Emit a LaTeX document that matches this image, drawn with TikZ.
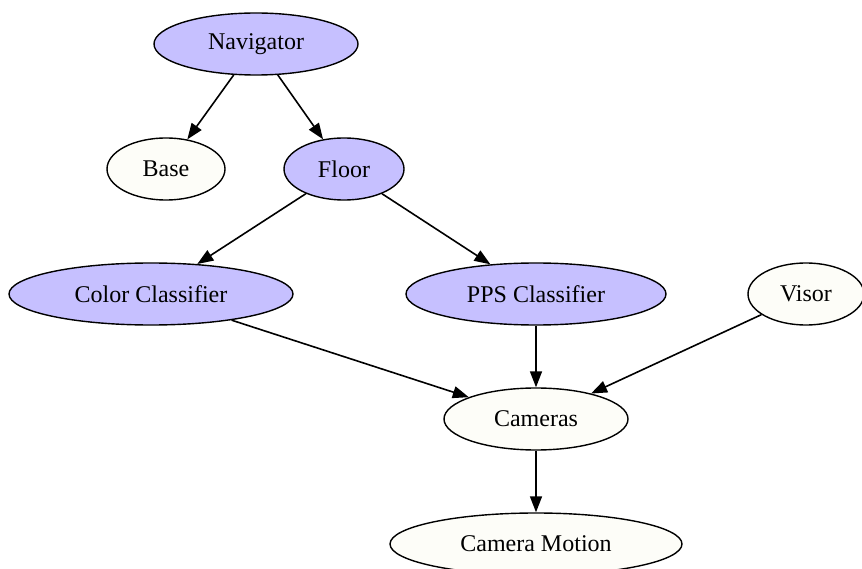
\documentclass[tikz,border=0pt]{standalone}
\usepackage{fontspec}
\setmainfont{Liberation Serif}
\usetikzlibrary{arrows.meta,shapes.geometric}
\definecolor{lav}{RGB}{198,192,255}
\definecolor{ivy}{RGB}{253,253,248}
\tikzset{
  nd/.style={ellipse,draw=black,line width=1.4pt,inner sep=0pt,minimum height=62pt,font=\fontsize{24}{28}\selectfont},
  hot/.style={nd,fill=lav},
  cold/.style={nd,fill=ivy},
  edge/.style={line width=1.6pt,-{Triangle[length=16pt,width=12pt]}}
}
\begin{document}
\begin{tikzpicture}[x=1pt,y=-1pt]
\useasboundingbox (0,0) rectangle (862,569);
\node[hot,minimum width=204pt] (nav) at (256,44) {Navigator};
\node[cold,minimum width=118pt] (base) at (166,169) {Base};
\node[hot,minimum width=120pt] (floor) at (344,169) {Floor};
\node[hot,minimum width=284pt] (color) at (151,294) {Color Classifier};
\node[hot,minimum width=260pt] (pps) at (536,294) {PPS Classifier};
\node[cold,minimum width=116pt] (visor) at (806,294) {Visor};
\node[cold,minimum width=184pt] (cam) at (536,419) {Cameras};
\node[cold,minimum width=292pt] (motion) at (536,544) {Camera Motion};
\draw[edge] (nav) -- (base);
\draw[edge] (nav) -- (floor);
\draw[edge] (floor) -- (color);
\draw[edge] (floor) -- (pps);
\draw[edge] (color) -- (cam);
\draw[edge] (pps) -- (cam);
\draw[edge] (visor) -- (cam);
\draw[edge] (cam) -- (motion);
\end{tikzpicture}
\end{document}
